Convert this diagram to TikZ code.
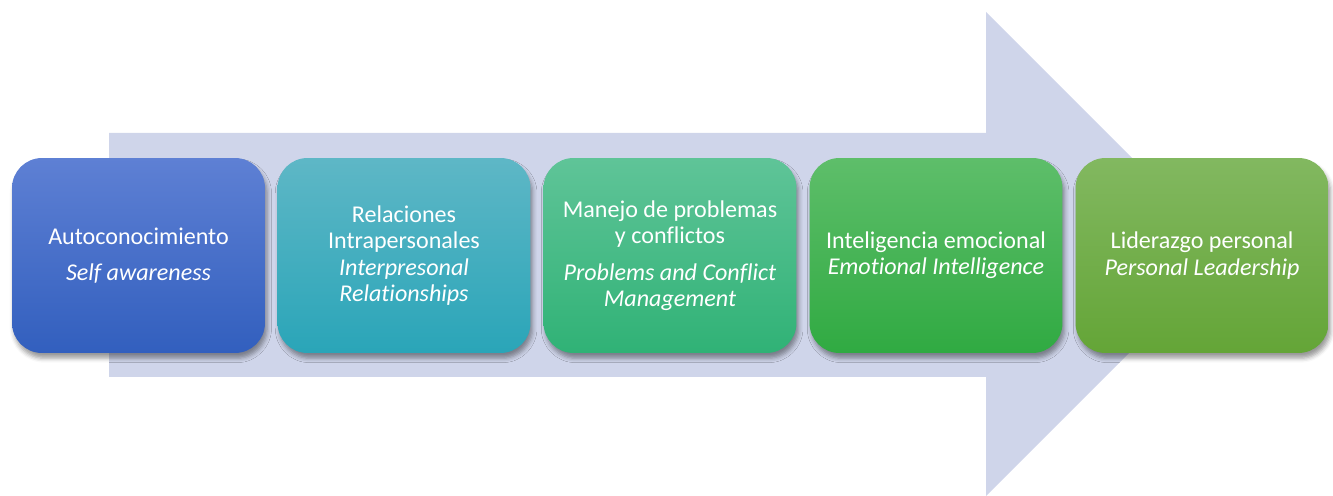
\documentclass[tikz,border=0pt]{standalone}
\usepackage{fontspec}
\setmainfont{Carlito}[Ligatures=NoCommon]
\usepackage{tikz}
\usetikzlibrary{positioning}
\usetikzlibrary{shadows.blur}

\definecolor{arrowfill}{RGB}{207,213,234}
\definecolor{awaretop}{RGB}{94,128,212}
\definecolor{awarebot}{RGB}{50,95,190}
\definecolor{relatetop}{RGB}{94,183,198}
\definecolor{relatebot}{RGB}{42,165,184}
\definecolor{conflicttop}{RGB}{95,196,152}
\definecolor{conflictbot}{RGB}{48,178,118}
\definecolor{emotiontop}{RGB}{94,190,106}
\definecolor{emotionbot}{RGB}{48,170,66}
\definecolor{leadtop}{RGB}{130,184,96}
\definecolor{leadbot}{RGB}{100,165,55}

\tikzset{
    stage/.style={rounded corners=0.6cm, minimum width=5.06cm, minimum height=3.9cm,
        text=white, align=center, inner sep=2pt,
        font=\fontsize{13.7}{14.9}\selectfont,
        blur shadow={shadow xshift=1.2pt, shadow yshift=-3pt, shadow blur radius=2.5pt, shadow opacity=40}},
}

\begin{document}
\begin{tikzpicture}[x=0.02cm, y=-0.02cm]
    \useasboundingbox (0,0) rectangle (1333,496);

    \coordinate (aware) at (138.5, 255.5);
    \coordinate (relate) at (404, 255.5);
    \coordinate (conflict) at (670, 255.5);
    \coordinate (emotion) at (936, 255.5);
    \coordinate (lead) at (1202, 255.5);

    % big arrow behind the boxes
    \path[fill=arrowfill] (109,133) -- (986,133) -- (986,12) -- (1228,254) -- (986,496) -- (986,377) -- (109,377) -- cycle;

    \node[stage, top color=awaretop, bottom color=awarebot] (awarebox) at (aware)
        {Autoconocimiento\\[6pt]\textit{Self awareness}};
    \node[stage, top color=relatetop, bottom color=relatebot] (relatebox) at (relate)
        {Relaciones\\Intrapersonales\\\textit{Interpresonal}\\\textit{Relationships}};
    \node[stage, top color=conflicttop, bottom color=conflictbot] (conflictbox) at (conflict)
        {Manejo de problemas\\y conflictos\\[6pt]\textit{Problems and Conflict}\\\textit{Management}};
    \node[stage, top color=emotiontop, bottom color=emotionbot] (emotionbox) at (emotion)
        {Inteligencia emocional\\\textit{Emotional Intelligence}};
    \node[stage, top color=leadtop, bottom color=leadbot] (leadbox) at (lead)
        {Liderazgo personal\\\textit{Personal Leadership}};
\end{tikzpicture}
\end{document}
